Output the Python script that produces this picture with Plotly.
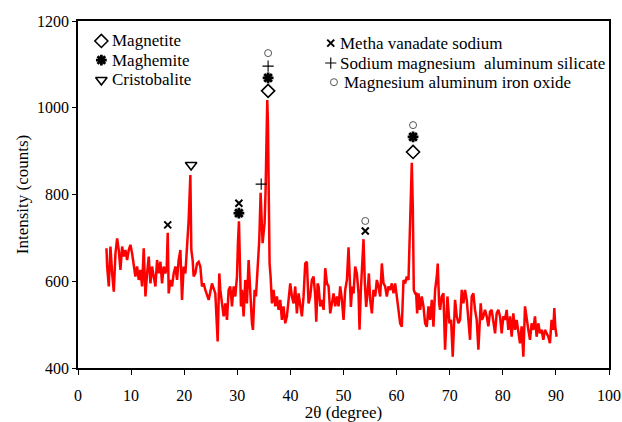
import plotly.graph_objects as go

# ---- XRD pattern (2-theta in degrees, intensity in counts) ----
two_theta = [
    5.36, 5.49, 5.80, 6.11, 6.43, 6.74, 7.05, 7.37, 7.68, 7.99, 8.31, 8.62, 8.93, 9.25, 9.56, 9.87,
    10.19, 10.50, 10.81, 11.13, 11.44, 11.75, 12.07, 12.38, 12.70, 13.01, 13.32, 13.64, 13.95, 14.26,
    14.58, 14.89, 15.20, 15.52, 15.83, 16.14, 16.46, 16.71, 16.90, 17.08, 17.40, 17.71, 18.02, 18.34,
    18.65, 18.96, 19.28, 19.59, 19.90, 20.22, 20.53, 20.84, 21.16, 21.34, 21.59, 21.78, 22.10, 22.41,
    22.72, 23.04, 23.35, 23.66,
    23.98, 24.61, 25.23, 25.55, 25.86, 26.30, 26.61, 26.80, 27.12, 27.43, 27.74, 28.06, 28.37, 28.68,
    29.00, 29.31, 29.62, 29.94, 30.12, 30.31, 30.50, 30.69, 30.88, 31.19, 31.50, 31.82, 32.13, 32.44,
    32.76, 32.95, 33.26, 33.51, 33.89, 34.14, 34.39, 34.58, 34.76, 34.95, 35.14, 35.33, 35.52, 35.64,
    35.77, 35.89, 36.08, 36.27, 36.52, 36.83, 37.15, 37.46, 37.77, 38.09, 38.40, 38.71, 39.03, 39.34,
    39.66, 39.97, 40.28, 40.60, 40.91, 41.22, 41.54, 41.85, 42.16, 42.48, 42.79, 43.10, 43.42, 43.73,
    44.05, 44.37, 44.68, 44.87, 45.12, 45.31, 45.62, 45.93, 46.25, 46.56, 46.88, 47.19, 47.50, 47.82,
    48.13, 48.44, 48.76, 49.07, 49.38, 49.70, 50.01, 50.32, 50.64, 50.95, 51.14, 51.39, 51.64, 51.89,
    52.20, 52.52, 52.83, 53.02, 53.27, 53.52, 53.77, 54.02, 54.27, 54.52, 54.78, 55.03, 55.34, 55.65,
    55.97, 56.28, 56.59, 56.91, 57.22, 57.53, 57.85, 58.16, 58.47, 58.79, 59.10, 59.42, 59.73, 60.04,
    60.36, 60.67, 60.98, 61.30, 61.61, 61.92, 62.24, 62.42, 62.68, 62.86, 63.05, 63.24, 63.49,
    63.68, 63.87, 64.12, 64.43, 64.74, 65.06, 65.37, 65.68, 66.00, 66.31, 66.63, 66.94, 67.25, 67.57,
    67.75, 68.00,
    68.19, 68.50, 68.82, 69.13, 69.32, 69.57, 69.95, 70.26, 70.57, 70.82, 71.01, 71.33, 71.64, 71.95,
    72.27, 72.58, 72.89, 73.21, 73.52, 73.83, 74.15, 74.46, 74.77, 75.09, 75.40, 75.59, 75.84, 76.09,
    76.34, 76.65, 76.97, 77.28, 77.60, 77.91, 78.22, 78.54, 78.85, 79.16, 79.48, 79.79, 80.10, 80.42,
    80.73, 81.04, 81.36, 81.67, 81.98, 82.30, 82.61, 82.92, 83.24, 83.55, 83.87, 84.18, 84.49, 84.81,
    85.12, 85.43, 85.75, 86.06, 86.37, 86.69, 87.00, 87.31, 87.63, 87.94, 88.25, 88.57, 88.88, 89.19,
    89.51, 89.70, 89.88, 90.13,
]
intensity = [
    676, 634, 588, 680, 618, 576, 664, 699, 672, 626, 680, 657, 672, 649, 672, 684,
    664, 634, 611, 634, 603, 626, 588, 676, 565, 618, 657, 595, 634, 611,
    588, 649, 618, 645, 595, 634, 618, 634, 712, 572, 603, 588, 618, 634,
    603, 649, 672, 557, 634, 618, 680, 741, 845, 672, 649, 611, 618, 641,
    645, 634, 588, 595,
    580, 557, 595, 580, 572, 461, 618, 580, 542, 519, 549, 511, 580, 588,
    542, 588, 565, 611, 688, 738, 641, 542, 580, 519, 603, 549, 649, 565,
    503, 488, 580, 565, 634, 695, 804, 749, 688, 711, 734, 811, 926, 1018,
    964, 749, 641, 611, 549, 580, 542, 565, 534, 557, 511, 542, 503, 519,
    565, 595, 565, 549, 588, 526, 572, 542, 519, 565, 641, 645, 549, 565,
    603, 611, 565, 507, 595, 588, 542, 557, 534, 630, 595, 588, 526, 549,
    572, 542, 565, 542, 588, 557, 511, 580, 603, 678, 603, 541, 588, 572,
    634, 618, 572, 488, 580, 634, 697, 595, 541, 572, 618, 557, 526, 580,
    565, 603, 588, 565, 641, 595, 588, 565, 588, 580, 595, 572, 595, 565,
    526, 503, 495, 603, 595, 611, 603, 703, 772, 873, 772, 580, 572,
    572, 526, 572, 534, 565, 542, 503, 495, 542, 511, 557, 495, 580, 611,
    641, 549,
    534, 565, 572, 442, 519, 565, 503, 511, 426, 519, 557, 519, 503, 511,
    580, 549, 580, 557, 519, 465, 565, 572, 534, 511, 442, 496, 549, 511,
    519, 534, 519, 496, 530, 534, 511, 480, 526, 534, 519, 480, 519, 511,
    534, 488, 519, 472, 526, 488, 511, 480, 457, 496, 426, 542, 511, 488,
    465, 503, 488, 519, 472, 503, 480, 488, 465, 488, 480, 472, 457, 511,
    488, 538, 496, 472,
]

# ---- phase key (upper-left and upper-right text blocks) ----
key_labels = ["Magnetite", "Maghemite", "Cristobalite",
              "Metha vanadate sodium", "Sodium magnesium  aluminum silicate",
              "Magnesium aluminum iron oxide"]
key_symbols = ["diamond-open", "asterisk-open", "triangle-down-open",
               "x-thin-open", "cross-thin-open", "circle-open"]
key_sym_x = [4.4, 4.4, 4.4, 47.6, 47.6, 48.2]
key_txt_x = [6.1, 6.1, 6.1, 48.9, 48.9, 49.7]
key_y = [1154, 1110, 1064, 1149, 1103, 1059]

# ---- peak identification marks ----
peak_symbols = ["x-thin-open", "triangle-down-open", "x-thin-open", "asterisk-open",
                "cross-thin-open", "circle-open", "cross-thin-open", "asterisk-open",
                "diamond-open", "circle-open", "x-thin-open", "circle-open",
                "asterisk-open", "diamond-open"]
peak_x = [16.9, 21.3, 30.3, 30.3, 34.5, 35.8, 35.8, 35.8, 35.8, 54.1, 54.1, 63.1, 63.1, 63.1]
peak_y = [730, 868, 780, 757, 824, 1126, 1096, 1069, 1039, 739, 716, 960, 933, 898]

sym_style = {
    "diamond-open": dict(size=10, width=1.6, color="#000000"),
    "asterisk-open": dict(size=9, width=2.8, color="#000000"),
    "triangle-down-open": dict(size=10, width=1.6, color="#000000"),
    "x-thin-open": dict(size=7, width=2.0, color="#000000"),
    "cross-thin-open": dict(size=8, width=1.1, color="#000000"),
    "circle-open": dict(size=7, width=1.0, color="#555555"),
}

FONT = "Liberation Serif, Times New Roman, serif"

fig = go.Figure()
fig.add_trace(go.Scatter(x=two_theta, y=intensity, mode="lines",
                         line=dict(color="#FF0000", width=2.5), showlegend=False,
                         hoverinfo="skip"))

all_sym = key_symbols + peak_symbols
all_x = key_sym_x + peak_x
all_y = key_y + peak_y
for s, xx, yy in zip(all_sym, all_x, all_y):
    st = sym_style[s]
    fig.add_trace(go.Scatter(x=[xx], y=[yy], mode="markers", showlegend=False,
                             marker=dict(symbol=s, size=st["size"], color=st["color"],
                                         line=dict(width=st["width"], color=st["color"])),
                             hoverinfo="skip"))

for lab, xx, yy in zip(key_labels, key_txt_x, key_y):
    fig.add_annotation(x=xx, y=yy, text=lab, showarrow=False, xanchor="left",
                       yanchor="middle", font=dict(family=FONT, size=17, color="#000000"))

fig.update_layout(
    width=622, height=422,
    margin=dict(l=78, r=13, t=21, b=54),
    paper_bgcolor="white", plot_bgcolor="white",
    font=dict(family=FONT, size=16, color="#000000"),
    xaxis=dict(range=[0, 100], tickmode="linear", tick0=0, dtick=10,
               ticks="outside", ticklen=5, tickwidth=1, tickcolor="#000",
               ticklabelstandoff=7, automargin=False,
               showline=True, linecolor="#000", linewidth=2, mirror=True,
               showgrid=False, zeroline=False,
               title=dict(text="2θ (degree)", standoff=3,
                          font=dict(family=FONT, size=17))),
    yaxis=dict(range=[400, 1200], tickmode="linear", tick0=400, dtick=200,
               ticks="outside", ticklen=4, tickwidth=1, tickcolor="#000",
               automargin=False,
               showline=True, linecolor="#000", linewidth=1.5, mirror=True,
               showgrid=False, zeroline=False,
               title=dict(text="Intensity (counts)", standoff=4,
                          font=dict(family=FONT, size=17))),
)

fig.write_html("out.html")
